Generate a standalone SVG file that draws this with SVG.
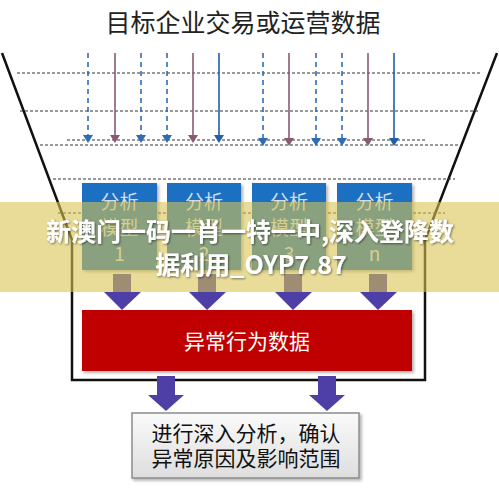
<svg xmlns="http://www.w3.org/2000/svg" width="499" height="494" viewBox="0 0 499 494">
<defs>
<style>
.cjk{font-family:"Noto Sans CJK SC","Noto Sans",sans-serif}
.hd{stroke:#333;stroke-width:1;stroke-dasharray:3 2;fill:none}
.vb{stroke:#2e6db4;stroke-width:1.6;stroke-dasharray:5 4;fill:none}
.vm{stroke:#8a5a74;stroke-width:1.6;fill:none}
.vs{stroke:#2060a8;stroke-width:1.6;fill:none}
.mdl{fill:#1a6fc2}
.mt{fill:#d4dce6;font-size:19px;text-anchor:middle}
.pa{fill:#4e3fa6}
</style>
<linearGradient id="gg" x1="0" y1="0" x2="0" y2="1"><stop offset="0" stop-color="#fafafa"/><stop offset="1" stop-color="#dedede"/></linearGradient>
<filter id="sh" x="-10%" y="-10%" width="130%" height="130%"><feDropShadow dx="2" dy="2" stdDeviation="1.5" flood-color="#000" flood-opacity="0.3"/></filter>
<filter id="ts" x="-5%" y="-20%" width="110%" height="140%"><feDropShadow dx="1" dy="1" stdDeviation="1" flood-color="#000" flood-opacity="0.5"/></filter>
</defs>
<rect width="499" height="494" fill="#fff"/>
<text class="cjk" x="243" y="32" font-size="25" fill="#222" text-anchor="middle">目标企业交易或运营数据</text>
<g id="funnel" fill="none" stroke="#111" stroke-width="2.5">
<path d="M2,53 L72,240 L72,380 L425,380 L425,240 L497,53"/>
</g>
<g id="guides">
<line class="hd" x1="17" y1="73" x2="482" y2="73"/>
<line class="hd" x1="20" y1="111" x2="478" y2="111"/>
<line class="hd" x1="67" y1="140" x2="425" y2="140"/>
<line class="hd" x1="40" y1="145" x2="459" y2="145"/>
<line class="hd" x1="53" y1="179" x2="455" y2="179"/>
<line class="hd" x1="58" y1="213" x2="445" y2="213"/>
</g>
<g id="connectors">
<g id="data-arrows">
<line class="vb" x1="88" y1="53" x2="88" y2="136"/><path d="M83,135 L93,135 L88,143 Z" fill="#2e6db4"/>
<line class="vm" x1="115" y1="53" x2="115" y2="136"/><path d="M110,135 L120,135 L115,143 Z" fill="#8a5a74"/>
<line class="vb" x1="141" y1="53" x2="141" y2="136"/><path d="M136,135 L146,135 L141,143 Z" fill="#2e6db4"/>
<line class="vb" x1="167" y1="53" x2="167" y2="136"/><path d="M162,135 L172,135 L167,143 Z" fill="#2e6db4"/>
<line class="vm" x1="193" y1="53" x2="193" y2="136"/><path d="M188,135 L198,135 L193,143 Z" fill="#8a5a74"/>
<line class="vs" x1="219" y1="53" x2="219" y2="136"/><path d="M214,135 L224,135 L219,143 Z" fill="#2060a8"/>
<line class="vb" x1="263" y1="53" x2="263" y2="139"/><path d="M258,138 L268,138 L263,146 Z" fill="#2e6db4"/>
<line class="vm" x1="289" y1="53" x2="289" y2="139"/><path d="M284,138 L294,138 L289,146 Z" fill="#8a5a74"/>
<line class="vb" x1="316" y1="53" x2="316" y2="139"/><path d="M311,138 L321,138 L316,146 Z" fill="#2e6db4"/>
<line class="vb" x1="342" y1="53" x2="342" y2="139"/><path d="M337,138 L347,138 L342,146 Z" fill="#2e6db4"/>
<line class="vm" x1="368" y1="53" x2="368" y2="139"/><path d="M363,138 L373,138 L368,146 Z" fill="#8a5a74"/>
<line class="vs" x1="394" y1="53" x2="394" y2="139"/><path d="M389,138 L399,138 L394,146 Z" fill="#2060a8"/>
</g>
<g id="block-arrows">
<path class="pa" d="M113,274 H131 V292 H141 L122,310 L104,292 H113 Z"/>
<path class="pa" d="M198,274 H216 V292 H226 L207,310 L189,292 H198 Z"/>
<path class="pa" d="M284,274 H302 V292 H312 L293,310 L275,292 H284 Z"/>
<path class="pa" d="M369,274 H387 V292 H397 L378,310 L360,292 H369 Z"/>
<path class="pa" d="M157,376 H175 V395 H184 L166,411 L148,395 H157 Z"/>
<path class="pa" d="M318,376 H336 V395 H345 L327,411 L309,395 H318 Z"/>
</g>
</g>
<g id="model-1"><rect class="mdl" x="82" y="183" width="75" height="87" filter="url(#sh)"/><text class="cjk mt" x="119.5" y="209">分析</text><text class="cjk mt" x="119.5" y="235">模型</text><text class="cjk mt" x="119.5" y="261">1</text></g>
<g id="model-2"><rect class="mdl" x="167" y="183" width="74" height="87" filter="url(#sh)"/><text class="cjk mt" x="204" y="209">分析</text><text class="cjk mt" x="204" y="235">模型</text><text class="cjk mt" x="204" y="261">2</text></g>
<g id="model-3"><rect class="mdl" x="252" y="183" width="74" height="87" filter="url(#sh)"/><text class="cjk mt" x="289" y="209">分析</text><text class="cjk mt" x="289" y="235">模型</text><text class="cjk mt" x="289" y="261">3</text></g>
<g id="model-n"><rect class="mdl" x="337" y="183" width="75" height="87" filter="url(#sh)"/><text class="cjk mt" x="374.5" y="209">分析</text><text class="cjk mt" x="374.5" y="235">模型</text><text class="cjk mt" x="374.5" y="261">n</text></g>
<g id="anomaly"><rect x="82" y="310" width="330" height="61" fill="#c00000" filter="url(#sh)"/><text class="cjk" x="247" y="349" font-size="21" fill="#fff" text-anchor="middle">异常行为数据</text></g>
<g id="analysis"><rect x="132" y="413" width="227" height="65" fill="url(#gg)" stroke="#8c8c8c" stroke-width="1.5" filter="url(#sh)"/><text class="cjk" x="246" y="441" font-size="21" fill="#111" text-anchor="middle">进行深入分析，确认</text><text class="cjk" x="246" y="466" font-size="21" fill="#111" text-anchor="middle">异常原因及影响范围</text></g>
<g id="banner">
<rect x="0" y="202" width="499" height="90" fill="#d8c450" fill-opacity="0.59"/>
<g filter="url(#ts)" class="cjk" font-weight="bold" font-size="25" fill="#fff" text-anchor="middle">
<text x="250" y="241">新澳门一码一肖一特一中,深入登降数</text>
<text x="251" y="274">据利用_OYP7.87</text>
</g>
</g>
</svg>
